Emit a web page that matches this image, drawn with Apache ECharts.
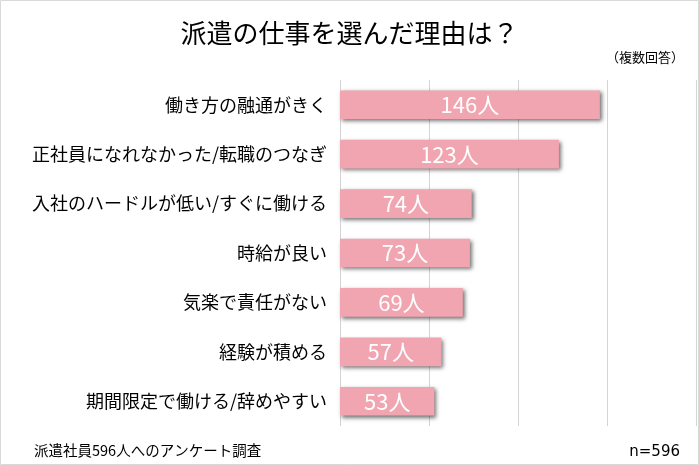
<!DOCTYPE html>
<html><head><meta charset="utf-8">
<script src="https://cdn.jsdelivr.net/npm/echarts@6/dist/echarts.min.js"></script>
<style>html,body{margin:0;padding:0;background:#fff}#c{width:699px;height:465px}</style>
</head><body><div id="c"></div>
<script>
const categories = ['働き方の融通がきく','正社員になれなかった/転職のつなぎ','入社のハードルが低い/すぐに働ける','時給が良い','気楽で責任がない','経験が積める','期間限定で働ける/辞めやすい'];
const values = [146,123,74,73,69,57,53];
const titleText = '派遣の仕事を選んだ理由は？';
const noteText = '（複数回答）';
const sourceText = '派遣社員596人へのアンケート調査';
const nText = 'n=596';
const font = '"Noto Sans CJK JP","Noto Sans",sans-serif';
const chart = echarts.init(document.getElementById('c'));
chart.setOption({
  animation:false,
  backgroundColor:'#fff',
  title:[
    {text:titleText,left:'center',top:15,textStyle:{fontFamily:font,fontSize:26,fontWeight:'normal',color:'#000'}},
    {text:noteText,right:10,top:46,textStyle:{fontFamily:font,fontSize:13,fontWeight:'normal',color:'#000'}},
    {text:sourceText,left:29,top:438,textStyle:{fontFamily:font,fontSize:14.5,fontWeight:'normal',color:'#000'}},
    {text:nText,right:14,top:440,textStyle:{fontFamily:'"DejaVu Sans",sans-serif',fontSize:15,fontWeight:'normal',color:'#000'}}
  ],
  graphic:[{type:'rect',shape:{x:0.5,y:0.5,width:698,height:464},style:{fill:null,stroke:'#d9d9d9',lineWidth:1},silent:true,z:-1}],
  grid:{left:340,right:3,top:80,bottom:39},
  xAxis:{type:'value',min:0,max:200,interval:50,axisLabel:{show:false},axisLine:{show:false},axisTick:{show:false},
    splitLine:{show:true,lineStyle:{color:'#d4d4d4',width:1}}},
  yAxis:{type:'category',data:categories,inverse:true,axisLine:{show:false},axisTick:{show:false},
    axisLabel:{fontFamily:font,fontSize:18,color:'#000',margin:13}},
  series:[{type:'bar',data:values,barWidth:'58%',
    itemStyle:{color:'#f0a5b0',shadowColor:'rgba(0,0,0,0.55)',shadowBlur:4,shadowOffsetX:2,shadowOffsetY:2},
    label:{show:true,position:'inside',formatter:p=>p.value+'人',fontFamily:font,fontSize:22,color:'#fff'}
  }]
});
</script></body></html>
